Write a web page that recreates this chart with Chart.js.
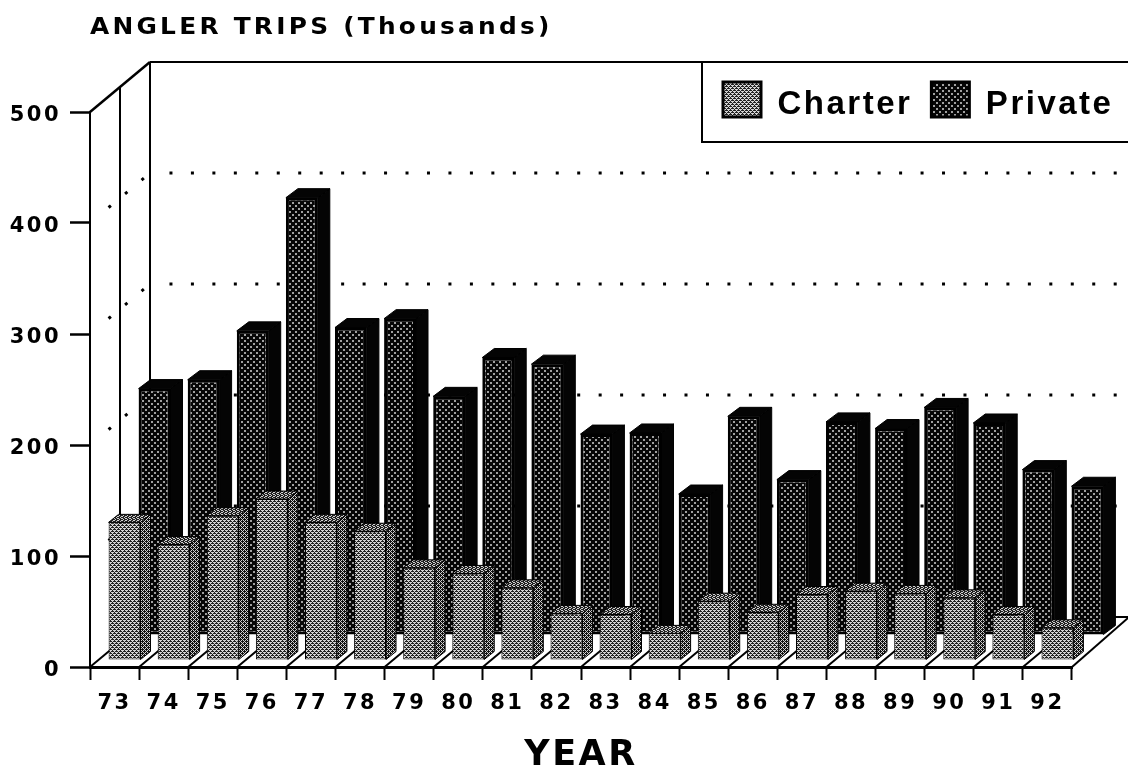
<!DOCTYPE html>
<html><head><meta charset="utf-8">
<style>html,body{margin:0;padding:0;background:#fff}canvas{display:block}</style>
<script src="https://cdn.jsdelivr.net/npm/chart.js@4"></script>
</head><body>
<canvas id="c" width="1128" height="771"></canvas>
<script>
const years = ['73','74','75','76','77','78','79','80','81','82','83','84','85','86','87','88','89','90','91','92'];
const charter = [124,104,130,145,124,116,83,78,65,42,41,24,53,43,59,62,60,56,41,29];
const privateTrips = [222,230,274,394,277,285,215,250,244,181,182,127,197,140,192,186,205,191,149,134];
const yTicks = [0,100,200,300,400,500];
const chartTitle = 'ANGLER TRIPS (Thousands)';
const xTitle = 'YEAR';

const W = 1128, FONT = '"DejaVu Sans", Verdana, sans-serif', LFONT = '"Liberation Sans", Arial, sans-serif';
const WALL = {dx:60, dy:-50};
const ROW = {
  charter:{dx:10, dy:-7, sx:10, sy:8},
  priv:{dx:40, dy:-32, sx:12, sy:9}
};
function tile(rows, dark, light){
  const c = document.createElement('canvas');
  c.width = rows[0].length; c.height = rows.length;
  const g = c.getContext('2d');
  rows.forEach((r,y)=>[...r].forEach((p,x)=>{g.fillStyle = p==='1'?dark:light; g.fillRect(x,y,1,1);}));
  return g.createPattern(c,'repeat');
}
const chFront = tile(['1101','0010','0111','1000'],'#222','#d4d4d4');
const chSide  = tile(['1101','1010','0111','1010'],'#111','#d0d0d0');
const chTop   = tile(['1101','0110','1011','0110'],'#222','#d0d0d0');
const prFront = tile(['001111','001111','111111','111001','111001','111111'],'#060606','#a0a0a0');
const prDark  = '#040404';

function poly(ctx, pts, fill){
  ctx.beginPath();
  pts.forEach((p,i)=> i?ctx.lineTo(p[0],p[1]):ctx.moveTo(p[0],p[1]));
  ctx.closePath();
  if(fill){ctx.fillStyle=fill;ctx.fill();}
}
const line = (ctx,a,b,c,d)=>{ctx.beginPath();ctx.moveTo(a,b);ctx.lineTo(c,d);ctx.stroke();};

const frame3d = {
  id:'frame3d',
  beforeUpdate(chart){
    const l = chart.legend;
    if(!l._patched){
      l._patched = true;
      l.isHorizontal = ()=>true;
      const d = l.draw.bind(l);
      l.draw = (...a)=>{
        const c = chart.ctx; c.letterSpacing='2.5px';
        c.fillText = function(t,x,y,m){
          return m===undefined ? CanvasRenderingContext2D.prototype.fillText.call(c,t,x,y+5)
                               : CanvasRenderingContext2D.prototype.fillText.call(c,t,x,y+5,m);
        };
        d(...a);
        delete c.fillText;
      };
      const tb = chart.titleBlock, td = tb.draw.bind(tb);
      tb.draw = (...a)=>{
        const c = chart.ctx; c.save(); c.letterSpacing='3px';
        c.translate(90,0); c.scale(1.08,1); c.translate(-90,0);
        td(...a); c.restore();
      };
    }
  },
  afterLayout(chart){
    const l = chart.legend, p = l.options.labels.padding;
    l.left = 723 - p; l.top = 82 - p; l.right = W + 100;
  },
  beforeDraw(chart){
    const ctx = chart.ctx, {left,right,bottom,top} = chart.chartArea, y = chart.scales.y;
    ctx.letterSpacing = '2.5px';
    ctx.save();
    ctx.fillStyle='#fff'; ctx.fillRect(0,0,W,771);
    ctx.strokeStyle='#000'; ctx.lineCap='butt';
    const bx = left+WALL.dx, by = bottom+WALL.dy;
    // dotted gridlines on the wall
    ctx.lineWidth=3; ctx.setLineDash([3,18.46]);
    yTicks.filter(v=>v>0&&v<500).forEach(v=>{
      const p = y.getPixelForValue(v);
      ctx.lineDashOffset=2;
      line(ctx,bx,p+WALL.dy,W,p+WALL.dy);
      ctx.lineDashOffset=-8;
      line(ctx,bx,p+WALL.dy,left+15,p+WALL.dy*0.25);
    });
    ctx.setLineDash([]);
    // wall outline
    ctx.lineWidth=2;
    line(ctx,bx,top+WALL.dy,W,top+WALL.dy);
    ctx.lineWidth=2.5; line(ctx,left,top,bx,top+WALL.dy);
    ctx.lineWidth=2;
    line(ctx,bx,top+WALL.dy,bx,by);
    line(ctx,left+30,top+WALL.dy/2,left+30,bottom+WALL.dy/2);
    // floor
    poly(ctx,[[left,bottom],[bx,by],[W,by],[W,by+1],[right,bottom]],'#fff');
    ctx.lineWidth=2;
    line(ctx,right,bottom,W,by+1);
    line(ctx,1108,by,W,by);
    const step = (right-left)/years.length;
    years.forEach((_,i)=>line(ctx,left+step*i,bottom,left+step*i+WALL.dx,by));
    // legend frame
    poly(ctx,[[702,62],[W+2,62],[W+2,142],[702,142]],'#fff');
    ctx.lineWidth=2; ctx.stroke();
    ctx.restore();
  },
  beforeDatasetDraw(chart,args){
    const ctx = chart.ctx, isCh = args.index===0, r = isCh?ROW.charter:ROW.priv;
    ctx.save();
    ctx.translate(r.dx,r.dy);
    args.meta.data.forEach(el=>{
      const l = el.x-el.width/2, R = el.x+el.width/2, t = el.y, b = el.base;
      poly(ctx,[[R,t],[R+r.sx,t-r.sy],[R+r.sx,b-r.sy],[R,b]], isCh?chSide:prDark);
      ctx.strokeStyle='#000';ctx.lineWidth=1;ctx.stroke();
      poly(ctx,[[l,t],[l+r.sx,t-r.sy],[R+r.sx,t-r.sy],[R,t]], isCh?chTop:prDark);
      ctx.stroke();
    });
  },
  afterDatasetDraw(chart){ chart.ctx.restore(); }
};

new Chart(document.getElementById('c'),{
  type:'bar',
  data:{labels:years,datasets:[
    {label:'Charter',data:charter,backgroundColor:chFront,borderColor:'#000',borderWidth:1,borderSkipped:false,clip:false},
    {label:'Private',data:privateTrips,backgroundColor:prFront,borderColor:'#000',borderWidth:3,borderSkipped:false,clip:false}
  ]},
  options:{
    responsive:false,animation:false,devicePixelRatio:1,
    events:[],
    layout:{padding:{left:0,right:56,top:0,bottom:0}},
    datasets:{bar:{grouped:false,categoryPercentage:1,barPercentage:0.65}},
    plugins:{
      tooltip:{enabled:false},
      title:{display:true,fullSize:false,text:chartTitle,align:'start',color:'#000',
        font:{family:FONT,weight:'bold',size:23,lineHeight:1},padding:{top:17,bottom:72}},
      legend:{position:'chartArea',align:'start',
        labels:{boxWidth:38,boxHeight:35,padding:19,color:'#000',
          font:{family:LFONT,weight:'bold',size:33},
          generateLabels(ch){return Chart.defaults.plugins.legend.labels.generateLabels(ch).map(x=>({...x,lineWidth:3}));}}}
    },
    scales:{
      x:{grid:{drawOnChartArea:false,drawTicks:true,tickLength:13,tickColor:'#000',tickWidth:2},
        border:{color:'#000',width:3},
        afterFit(s){s.height=104;},
        ticks:{color:'#000',padding:11,maxRotation:0,autoSkip:false,font:{family:FONT,weight:'bold',size:21}},
        title:{display:true,text:xTitle,color:'#000',font:{family:FONT,weight:'bold',size:35,lineHeight:0.8},padding:{top:0,bottom:1}}},
      y:{min:0,max:500,afterFit(s){s.width=90;},
        grid:{drawOnChartArea:false,drawTicks:true,tickLength:20,tickColor:'#000',tickWidth:2.5},
        border:{color:'#000',width:2},
        ticks:{color:'#000',padding:9,stepSize:100,labelOffset:3.5,font:{family:FONT,weight:'bold',size:21}}}
    }
  },
  plugins:[frame3d]
});
</script>
</body></html>
